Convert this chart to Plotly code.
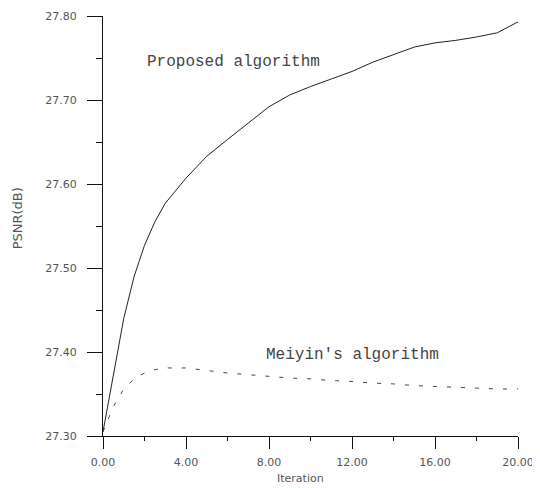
import plotly.graph_objects as go

# Data
iterations = [0, 0.5, 1, 1.5, 2, 2.5, 3, 4, 5, 6, 7, 8, 9, 10, 11, 12, 13, 14, 15, 16, 17, 18, 19, 20]
proposed = [27.305, 27.375, 27.440, 27.490, 27.527, 27.555, 27.577, 27.607, 27.633, 27.653,
            27.673, 27.692, 27.706, 27.716, 27.725, 27.734, 27.745, 27.754, 27.763, 27.768,
            27.771, 27.775, 27.780, 27.793]
meiyin = [27.305, 27.335, 27.356, 27.368, 27.375, 27.379, 27.381, 27.381, 27.378, 27.375,
          27.373, 27.371, 27.369, 27.368, 27.366, 27.365, 27.363, 27.362, 27.360, 27.359,
          27.358, 27.357, 27.356, 27.356]

x_ticks = [0, 4, 8, 12, 16, 20]
x_ticklabels = ["0.00", "4.00", "8.00", "12.00", "16.00", "20.00"]
x_minor = [2, 6, 10, 14, 18]
y_ticks = [27.30, 27.40, 27.50, 27.60, 27.70, 27.80]
y_ticklabels = ["27.30", "27.40", "27.50", "27.60", "27.70", "27.80"]
y_minor = [27.35, 27.45, 27.55, 27.65, 27.75]

fig = go.Figure()
fig.add_trace(go.Scatter(x=iterations, y=proposed, mode="lines", name="Proposed algorithm",
                         line=dict(color="#222222", width=1), cliponaxis=False))
fig.add_trace(go.Scatter(x=iterations, y=meiyin, mode="lines", name="Meiyin's algorithm",
                         line=dict(color="#444444", width=1, dash="4px,10px"), cliponaxis=False))

tick_font = dict(family="DejaVu Sans", size=11, color="#555555")
text_font = dict(family="Liberation Mono", size=16, color="#444444")

fig.add_annotation(x=6.27, y=27.745, text="Proposed algorithm", showarrow=False, font=text_font,
                   xanchor="center", yanchor="middle")
fig.add_annotation(x=12.0, y=27.396, text="Meiyin's algorithm", showarrow=False, font=text_font,
                   xanchor="center", yanchor="middle")
fig.add_annotation(xref="paper", yref="paper", x=-0.205, y=0.518, text="PSNR(dB)",
                   textangle=-90, showarrow=False, xanchor="center", yanchor="middle",
                   font=dict(family="DejaVu Sans", size=13, color="#555555"))
fig.add_annotation(xref="paper", yref="paper", x=0.477, y=-0.10, text="Iteration",
                   showarrow=False, xanchor="center", yanchor="middle",
                   font=dict(family="DejaVu Sans", size=11, color="#555555"))

fig.update_layout(
    width=532, height=480,
    margin=dict(l=95, r=22, t=7.5, b=52, autoexpand=False),
    paper_bgcolor="white", plot_bgcolor="white",
    showlegend=False,
    xaxis=dict(range=[0, 20], showgrid=False, zeroline=False, showline=True,
               linecolor="#111111", linewidth=1, automargin=False,
               tickmode="array", tickvals=x_ticks, ticktext=x_ticklabels,
               ticks="outside", ticklen=12, tickcolor="#111111", tickwidth=1,
               minor=dict(tickmode="array", tickvals=x_minor, ticks="outside",
                          ticklen=4, tickcolor="#111111", tickwidth=1),
               tickfont=tick_font, ticklabelstandoff=4, ticklabeloverflow="allow"),
    yaxis=dict(range=[27.30, 27.80], showgrid=False, zeroline=False, showline=True,
               linecolor="#111111", linewidth=1, automargin=False,
               tickmode="array", tickvals=y_ticks, ticktext=y_ticklabels,
               ticks="outside", ticklen=15, tickcolor="#111111", tickwidth=1,
               minor=dict(tickmode="array", tickvals=y_minor,
                          ticks="outside", ticklen=6, tickcolor="#111111", tickwidth=1),
               tickfont=tick_font, ticklabelstandoff=8),
)

fig.write_html("out.html")
